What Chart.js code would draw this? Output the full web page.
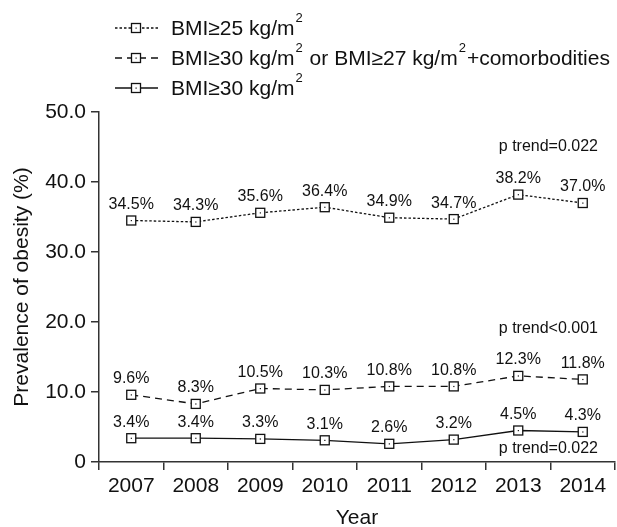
<!DOCTYPE html>
<html>
<head>
<meta charset="utf-8">
<script src="https://cdn.jsdelivr.net/npm/chart.js@4.4.1/dist/chart.umd.min.js"></script>
<style>
  html, body { margin: 0; padding: 0; background: #fff; }
  #chart { display: block; }
</style>
</head>
<body>
<canvas id="chart" width="617" height="527"></canvas>
<script>
const years = ["2007", "2008", "2009", "2010", "2011", "2012", "2013", "2014"];
const bmi25 = [34.5, 34.3, 35.6, 36.4, 34.9, 34.7, 38.2, 37.0];
const bmi30or27 = [9.6, 8.3, 10.5, 10.3, 10.8, 10.8, 12.3, 11.8];
const bmi30 = [3.4, 3.4, 3.3, 3.1, 2.6, 3.2, 4.5, 4.3];
const yTicks = [0, 10, 20, 30, 40, 50];
const pTrends = ["p trend=0.022", "p trend<0.001", "p trend=0.022"];

const FONT = "'Liberation Sans', Arial, sans-serif";
const INK = "#111";

// leyenda: texto con superindices
const legendItems = [
    { parts: [["BMI≥25 kg/m"], ["2", true]] },
    { parts: [["BMI≥30 kg/m"], ["2", true], [" or BMI≥27 kg/m"], ["2", true], ["+comorbodities"]] },
    { parts: [["BMI≥30 kg/m"], ["2", true]] }
];

function drawMarker(ctx, x, y) {
    ctx.save();
    ctx.setLineDash([]);
    ctx.lineWidth = 1.3;
    ctx.fillStyle = "#fff";
    ctx.strokeStyle = INK;
    ctx.fillRect(x - 4.5, y - 4.5, 9, 9);
    ctx.strokeRect(x - 4.5, y - 4.5, 9, 9);
    ctx.fillStyle = INK;
    ctx.fillRect(x - 0.5, y - 0.5, 1.2, 1.2);
    ctx.restore();
}

const customLegend = {
    id: "customLegend",
    afterDraw(chart) {
        const ctx = chart.ctx;
        const rows = [28, 58, 88];
        chart.data.datasets.forEach((ds, i) => {
            const y = rows[i];
            ctx.save();
            ctx.strokeStyle = INK;
            ctx.lineWidth = ds.borderWidth;
            ctx.setLineDash(ds.borderDash || []);
            ctx.beginPath();
            ctx.moveTo(115, y);
            ctx.lineTo(158, y);
            ctx.stroke();
            ctx.restore();
            drawMarker(ctx, 136, y);

            ctx.save();
            ctx.fillStyle = INK;
            ctx.textBaseline = "middle";
            let x = 171;
            legendItems[i].parts.forEach(([txt, sup]) => {
                if (sup) {
                    ctx.font = "13px " + FONT;
                    ctx.fillText(txt, x + 1, y - 10);
                    x += ctx.measureText(txt).width + 2;
                } else {
                    ctx.font = "21px " + FONT;
                    ctx.fillText(txt, x, y + 1);
                    x += ctx.measureText(txt).width;
                }
            });
            ctx.restore();
        });
    }
};

// etiquetas de valores y p trend
const valueLabels = {
    id: "valueLabels",
    afterDatasetsDraw(chart) {
        const ctx = chart.ctx;
        ctx.save();
        ctx.fillStyle = INK;
        ctx.font = "16px " + FONT;
        ctx.textAlign = "center";
        ctx.textBaseline = "middle";
        chart.data.datasets.forEach((ds, i) => {
            chart.getDatasetMeta(i).data.forEach((pt, j) => {
                drawMarker(ctx, pt.x, pt.y);
                ctx.fillText(ds.data[j].toFixed(1) + "%", pt.x, pt.y - 16);
            });
        });
        const yScale = chart.scales.y;
        const pos = [45.0, 19.1, 1.85];
        ctx.textAlign = "right";
        pTrends.forEach((t, i) => {
            ctx.fillText(t, 598, yScale.getPixelForValue(pos[i]));
        });
        ctx.restore();
    }
};

new Chart(document.getElementById("chart"), {
    type: "line",
    data: {
        labels: years,
        datasets: [
            { label: "BMI≥25", data: bmi25, borderColor: INK, borderWidth: 1.3, borderDash: [2.5, 2] },
            { label: "BMI≥30 or BMI≥27+comorbodities", data: bmi30or27, borderColor: INK, borderWidth: 1.3, borderDash: [7, 5] },
            { label: "BMI≥30", data: bmi30, borderColor: INK, borderWidth: 1.3 }
        ]
    },
    options: {
        responsive: false,
        animation: false,
        elements: { point: { radius: 0 }, line: { tension: 0 } },
        layout: { padding: { top: 112, right: 2, left: 0, bottom: 0 } },
        plugins: { legend: { display: false }, tooltip: { enabled: false } },
        scales: {
            x: {
                offset: true,
                grid: { offset: true, drawOnChartArea: false, drawTicks: true, tickLength: 8, color: "#333", lineWidth: 1.5 },
                border: { color: "#333", width: 1.5 },
                ticks: { color: INK, font: { family: FONT, size: 21 }, padding: 4, maxRotation: 0 },
                title: { display: true, text: "Year", color: INK, font: { family: FONT, size: 21, lineHeight: 0.8 }, padding: { top: 0, bottom: 0 } },
                afterFit(scale) { scale.height = 65; }
            },
            y: {
                min: 0,
                max: 50,
                afterBuildTicks(scale) { scale.ticks = yTicks.map(v => ({ value: v })); },
                grid: { drawOnChartArea: false, drawTicks: true, tickLength: 8, color: "#333", lineWidth: 1.5 },
                border: { color: "#333", width: 1.5 },
                ticks: {
                    color: INK,
                    font: { family: FONT, size: 21 },
                    padding: 5,
                    callback: v => v === 0 ? "0" : v.toFixed(1)
                },
                title: { display: true, text: "Prevalence of obesity (%)", color: INK, font: { family: FONT, size: 21 }, padding: { top: 10, bottom: 0 } },
                afterFit(scale) { scale.width = 99; }
            }
        }
    },
    plugins: [customLegend, valueLabels]
});
</script>
</body>
</html>
